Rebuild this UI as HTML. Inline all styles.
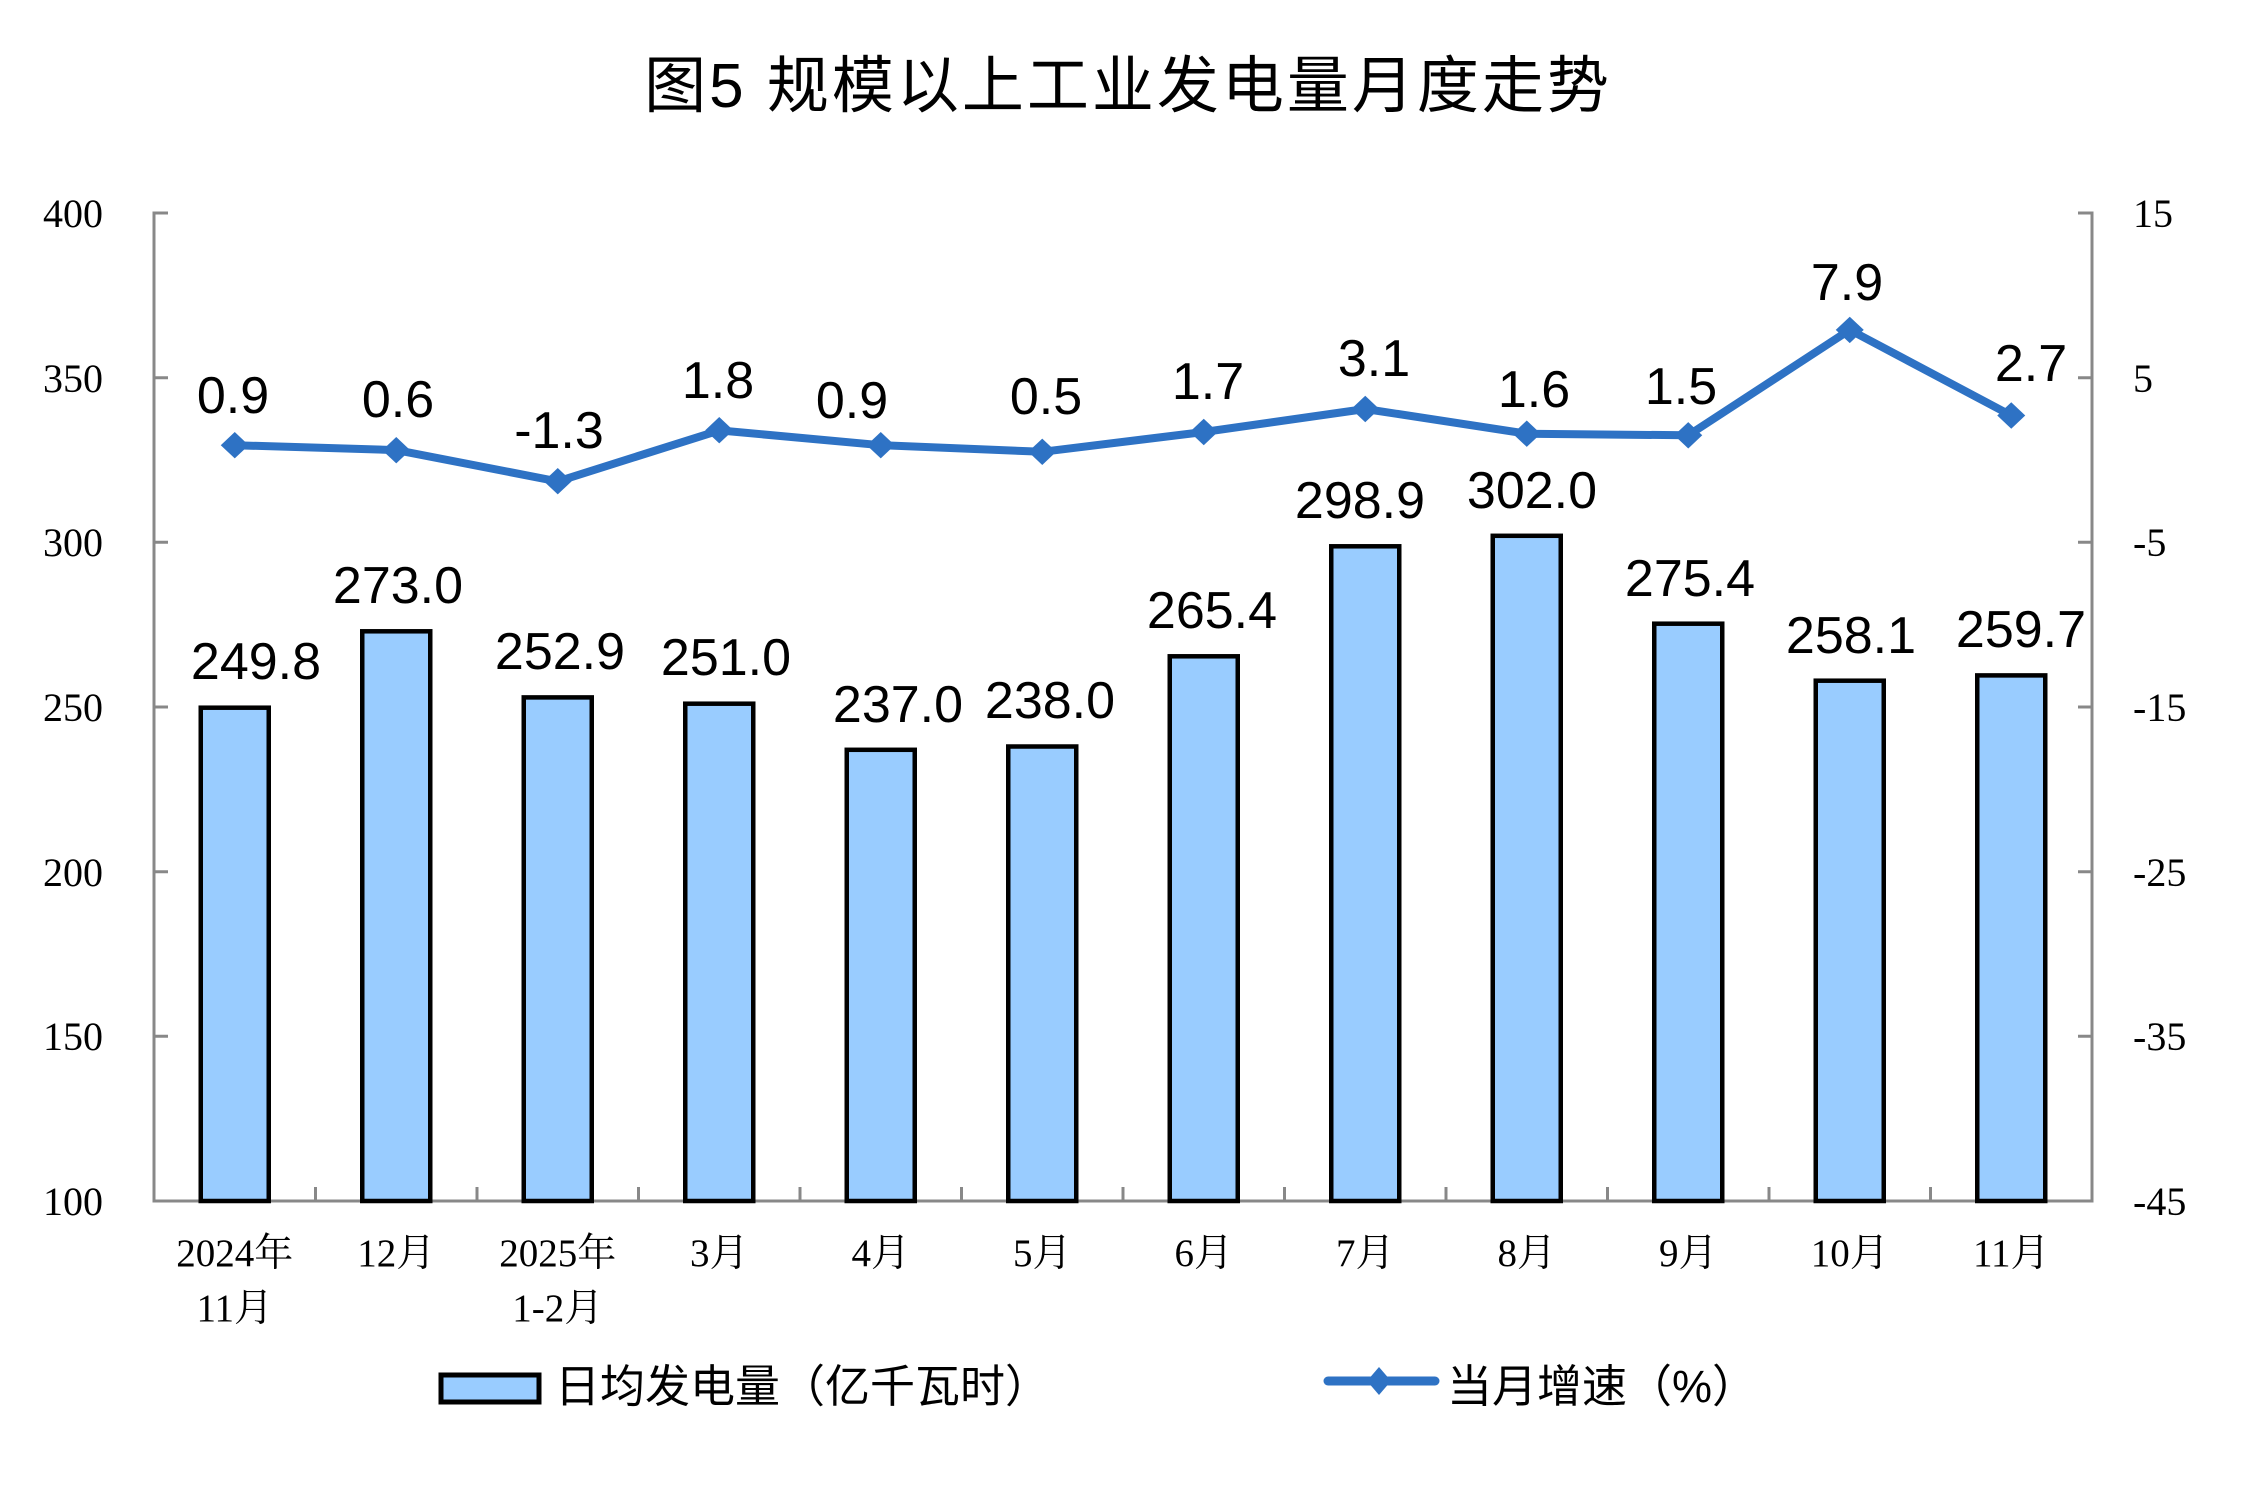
<!DOCTYPE html>
<html><head><meta charset="utf-8"><style>
html,body{margin:0;padding:0;background:#fff;}
svg{display:block;}
</style></head><body>
<svg width="2244" height="1512" viewBox="0 0 2244 1512" xmlns="http://www.w3.org/2000/svg">
<rect width="2244" height="1512" fill="#fff"/>
<text x="1128" y="107" text-anchor="middle" font-family="'Liberation Sans','Noto Sans CJK SC',sans-serif" font-size="62" letter-spacing="3" fill="#000">图5 规模以上工业发电量月度走势</text>
<!-- axes -->
<g stroke="#888" stroke-width="3" fill="none">
<path d="M168 213H154V1201H2092V213H2078"/>
<path d="M154 377.7H168M154 542.3H168M154 707H168M154 871.7H168M154 1036.3H168"/>
<path d="M2092 377.7H2078M2092 542.3H2078M2092 707H2078M2092 871.7H2078M2092 1036.3H2078"/>
<path d="M315.5 1201v-14M477 1201v-14M638.5 1201v-14M800 1201v-14M961.5 1201v-14M1123 1201v-14M1284.5 1201v-14M1446 1201v-14M1607.5 1201v-14M1769 1201v-14M1930.5 1201v-14"/>
</g>
<g font-family="'Liberation Serif',serif" font-size="40" fill="#000">
<g text-anchor="end">
<text x="103" y="227">400</text><text x="103" y="392">350</text><text x="103" y="556">300</text><text x="103" y="721">250</text><text x="103" y="886">200</text><text x="103" y="1050">150</text><text x="103" y="1215">100</text>
</g>
<text x="2133" y="227">15</text><text x="2133" y="392">5</text><text x="2133" y="556">-5</text><text x="2133" y="721">-15</text><text x="2133" y="886">-25</text><text x="2133" y="1050">-35</text><text x="2133" y="1215">-45</text>
</g>
<!-- bars -->
<g fill="#99CCFF" stroke="#000" stroke-width="4.5">
<rect x="200.75" y="707.7" width="68" height="493.3"/>
<rect x="362.25" y="631.3" width="68" height="569.7"/>
<rect x="523.75" y="697.4" width="68" height="503.6"/>
<rect x="685.25" y="703.7" width="68" height="497.3"/>
<rect x="846.75" y="749.8" width="68" height="451.2"/>
<rect x="1008.25" y="746.5" width="68" height="454.5"/>
<rect x="1169.75" y="656.3" width="68" height="544.7"/>
<rect x="1331.25" y="546.3" width="68" height="654.7"/>
<rect x="1492.75" y="535.8" width="68" height="665.2"/>
<rect x="1654.25" y="623.7" width="68" height="577.3"/>
<rect x="1815.75" y="680.7" width="68" height="520.3"/>
<rect x="1977.25" y="675.4" width="68" height="525.6"/>
</g>
<g font-family="'Liberation Sans',sans-serif" font-size="52" fill="#000" text-anchor="middle">
<text x="256" y="679">249.8</text>
<text x="398" y="603">273.0</text>
<text x="560" y="669">252.9</text>
<text x="726" y="675">251.0</text>
<text x="898" y="722">237.0</text>
<text x="1050" y="718">238.0</text>
<text x="1212" y="628">265.4</text>
<text x="1360" y="518">298.9</text>
<text x="1532" y="508">302.0</text>
<text x="1690" y="596">275.4</text>
<text x="1851" y="653">258.1</text>
<text x="2021" y="647">259.7</text>
</g>
<!-- line -->
<polyline fill="none" stroke="#2E72C4" stroke-width="8" stroke-linejoin="round" points="234.75,445.2 396.25,450.1 557.75,481.4 719.25,430.4 880.75,445.2 1042.25,451.8 1203.75,432 1365.25,409 1526.75,433.7 1688.25,435.3 1849.75,329.9 2011.25,415.5"/>
<g fill="#2E72C4">
<path d="M234.75 432l14 13.2-14 13.2-14-13.2z"/>
<path d="M396.25 437l14 13.2-14 13.2-14-13.2z"/>
<path d="M557.75 468l14 13.2-14 13.2-14-13.2z"/>
<path d="M719.25 417l14 13.2-14 13.2-14-13.2z"/>
<path d="M880.75 432l14 13.2-14 13.2-14-13.2z"/>
<path d="M1042.25 438.6l14 13.2-14 13.2-14-13.2z"/>
<path d="M1203.75 418.8l14 13.2-14 13.2-14-13.2z"/>
<path d="M1365.25 395.8l14 13.2-14 13.2-14-13.2z"/>
<path d="M1526.75 420.5l14 13.2-14 13.2-14-13.2z"/>
<path d="M1688.25 422.1l14 13.2-14 13.2-14-13.2z"/>
<path d="M1849.75 316.7l14 13.2-14 13.2-14-13.2z"/>
<path d="M2011.25 402.3l14 13.2-14 13.2-14-13.2z"/>
</g>
<g font-family="'Liberation Sans',sans-serif" font-size="52" fill="#000" text-anchor="middle">
<text x="233" y="413">0.9</text>
<text x="398" y="417">0.6</text>
<text x="559" y="448">-1.3</text>
<text x="718" y="398">1.8</text>
<text x="852" y="418">0.9</text>
<text x="1046" y="414">0.5</text>
<text x="1208" y="399">1.7</text>
<text x="1374" y="376">3.1</text>
<text x="1534" y="407">1.6</text>
<text x="1681" y="404">1.5</text>
<text x="1847" y="300">7.9</text>
<text x="2031" y="381">2.7</text>
</g>
<!-- category labels -->
<g font-family="'Liberation Serif','Noto Serif CJK SC',serif" font-size="39" fill="#000" text-anchor="middle">
<text x="234.75" y="1266">2024年</text><text x="234.75" y="1321">11月</text>
<text x="396.25" y="1266">12月</text>
<text x="557.75" y="1266">2025年</text><text x="557.75" y="1321">1-2月</text>
<text x="719.25" y="1266">3月</text>
<text x="880.75" y="1266">4月</text>
<text x="1042.25" y="1266">5月</text>
<text x="1203.75" y="1266">6月</text>
<text x="1365.25" y="1266">7月</text>
<text x="1526.75" y="1266">8月</text>
<text x="1688.25" y="1266">9月</text>
<text x="1849.75" y="1266">10月</text>
<text x="2011.25" y="1266">11月</text>
</g>
<!-- legend -->
<rect x="441" y="1375" width="98" height="27" fill="#99CCFF" stroke="#000" stroke-width="5"/>
<text x="555" y="1402" font-family="'Liberation Sans','Noto Sans CJK SC',sans-serif" font-size="45" fill="#000">日均发电量（亿千瓦时）</text>
<line x1="1328" y1="1381" x2="1435" y2="1381" stroke="#2E72C4" stroke-width="9" stroke-linecap="round"/>
<path d="M1379 1367l12 14-12 14-12-14z" fill="#2E72C4"/>
<text x="1447" y="1402" font-family="'Liberation Sans','Noto Sans CJK SC',sans-serif" font-size="45" fill="#000">当月增速（%）</text>
</svg>
</body></html>
